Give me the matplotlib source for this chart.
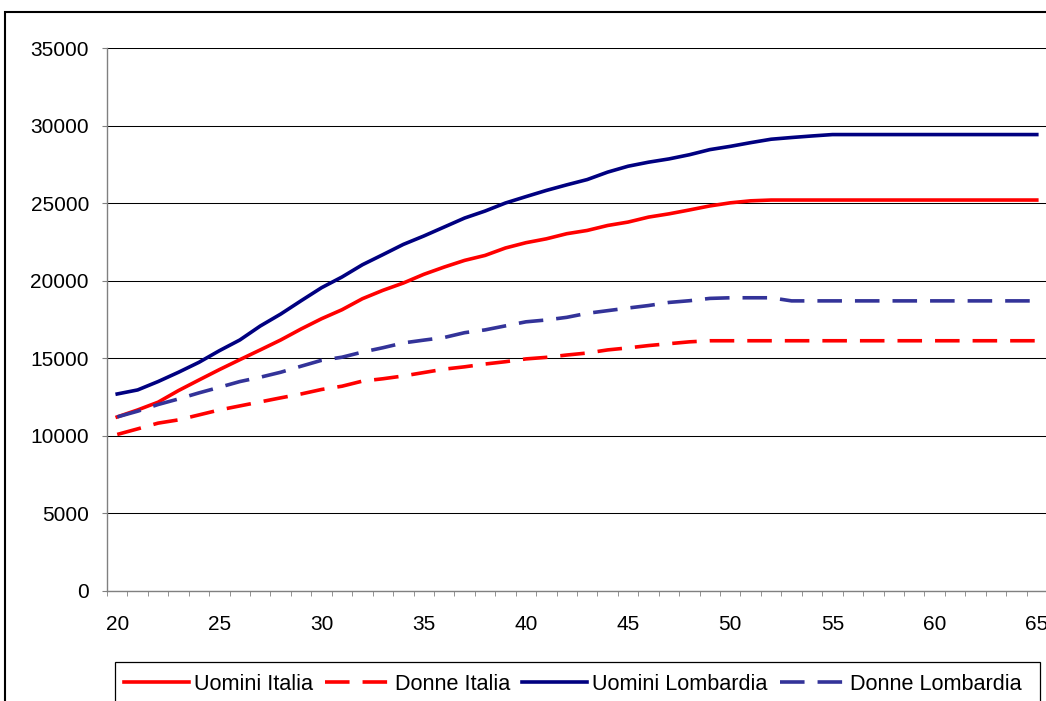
import matplotlib
matplotlib.use("Agg")
import matplotlib.pyplot as plt
from matplotlib.patches import Rectangle
from matplotlib.ticker import MultipleLocator, FixedLocator

plt.rcParams['font.family'] = ['Liberation Sans', 'DejaVu Sans']

eta = list(range(20, 66))

uomini_italia = [11220, 11670, 12170, 12920, 13600, 14270, 14910, 15540, 16180, 16890,
                 17550, 18130, 18840, 19380, 19850, 20410, 20880, 21310, 21630, 22110,
                 22450, 22700, 23030, 23240, 23560, 23780, 24100, 24310, 24560, 24820,
                 25020, 25150, 25200, 25200, 25200, 25200, 25200, 25200, 25200, 25200,
                 25200, 25200, 25200, 25200, 25200, 25200]
donne_italia = [10090, 10450, 10820, 11030, 11350, 11670, 11930, 12190, 12450, 12700,
                12990, 13200, 13530, 13680, 13860, 14080, 14300, 14450, 14630, 14780,
                14960, 15060, 15210, 15340, 15540, 15670, 15820, 15940, 16060, 16130,
                16130, 16130, 16130, 16130, 16130, 16130, 16130, 16130, 16130, 16130,
                16130, 16130, 16130, 16130, 16130, 16130]
uomini_lombardia = [12700, 12960, 13500, 14100, 14740, 15490, 16180, 17080, 17850, 18710,
                    19550, 20240, 21030, 21680, 22340, 22880, 23460, 24040, 24490, 25010,
                    25420, 25820, 26180, 26520, 27000, 27380, 27640, 27850, 28120, 28450,
                    28660, 28900, 29120, 29230, 29330, 29420, 29420, 29420, 29420, 29420,
                    29420, 29420, 29420, 29420, 29420, 29420]
donne_lombardia = [11220, 11590, 12020, 12380, 12770, 13130, 13500, 13780, 14100, 14490,
                   14870, 15070, 15400, 15680, 15990, 16170, 16340, 16650, 16830, 17090,
                   17350, 17470, 17640, 17900, 18070, 18240, 18400, 18600, 18710, 18860,
                   18900, 18900, 18900, 18700, 18700, 18700, 18700, 18700, 18700, 18700,
                   18700, 18700, 18700, 18700, 18700, 18700]

W, H = 1046, 701
fig = plt.figure(figsize=(W / 100, H / 100), dpi=100)
ax = fig.add_axes([107 / W, 1 - 591 / H, 940 / W, (591 - 48) / H])

lw = 2.6
dash = (6.8, 3.6)
ax.plot(eta, uomini_italia, color='#FF0000', lw=lw, label='Uomini Italia')
ax.plot(eta, donne_italia, color='#FF0000', lw=lw, dashes=dash,
        dash_capstyle='butt', label='Donne Italia')
ax.plot(eta, uomini_lombardia, color='#000080', lw=lw, label='Uomini Lombardia')
ax.plot(eta, donne_lombardia, color='#333399', lw=lw, dashes=dash,
        dash_capstyle='butt', label='Donne Lombardia')

ax.set_xlim(19.5, 65.5)
ax.set_ylim(0, 35000)
ax.yaxis.set_major_locator(MultipleLocator(5000))
ax.xaxis.set_major_locator(FixedLocator(range(20, 66, 5)))
ax.xaxis.set_minor_locator(FixedLocator([e - 0.5 for e in eta] + [65.5]))
ax.grid(axis='y', color='black', lw=0.75)
ax.set_axisbelow(True)

for s in ['top', 'right']:
    ax.spines[s].set_visible(False)
for s in ['left', 'bottom']:
    ax.spines[s].set_color('#808080')
    ax.spines[s].set_linewidth(1)

ax.tick_params(axis='y', direction='out', length=3.6, color='#808080',
               labelsize=15, pad=9.4)
ax.tick_params(axis='x', which='major', length=0, labelsize=15, pad=17)
ax.tick_params(axis='x', which='minor', direction='out', length=3.6, color='#808080')

# legend: frame drawn by hand so it runs off the bottom like the reference
fig.legend(loc='upper left', bbox_to_anchor=(115 / W, 1 - 665 / H),
           ncol=4, fontsize=15.6, frameon=False,
           borderaxespad=0, borderpad=0.4, handlelength=3.0, handletextpad=0.24,
           columnspacing=0.55)
fig.add_artist(Rectangle((115 / W, -0.05), (1040 - 115) / W, 0.05 + 1 - 662.5 / H,
                         transform=fig.transFigure, fill=False, edgecolor='black', lw=0.9))

# outer chart border
fig.add_artist(Rectangle((5 / W, -0.1), 1.2, 1.1 - 12 / H, transform=fig.transFigure,
                         fill=False, edgecolor='black', lw=1.5))

fig.savefig('out.png', dpi=100)
